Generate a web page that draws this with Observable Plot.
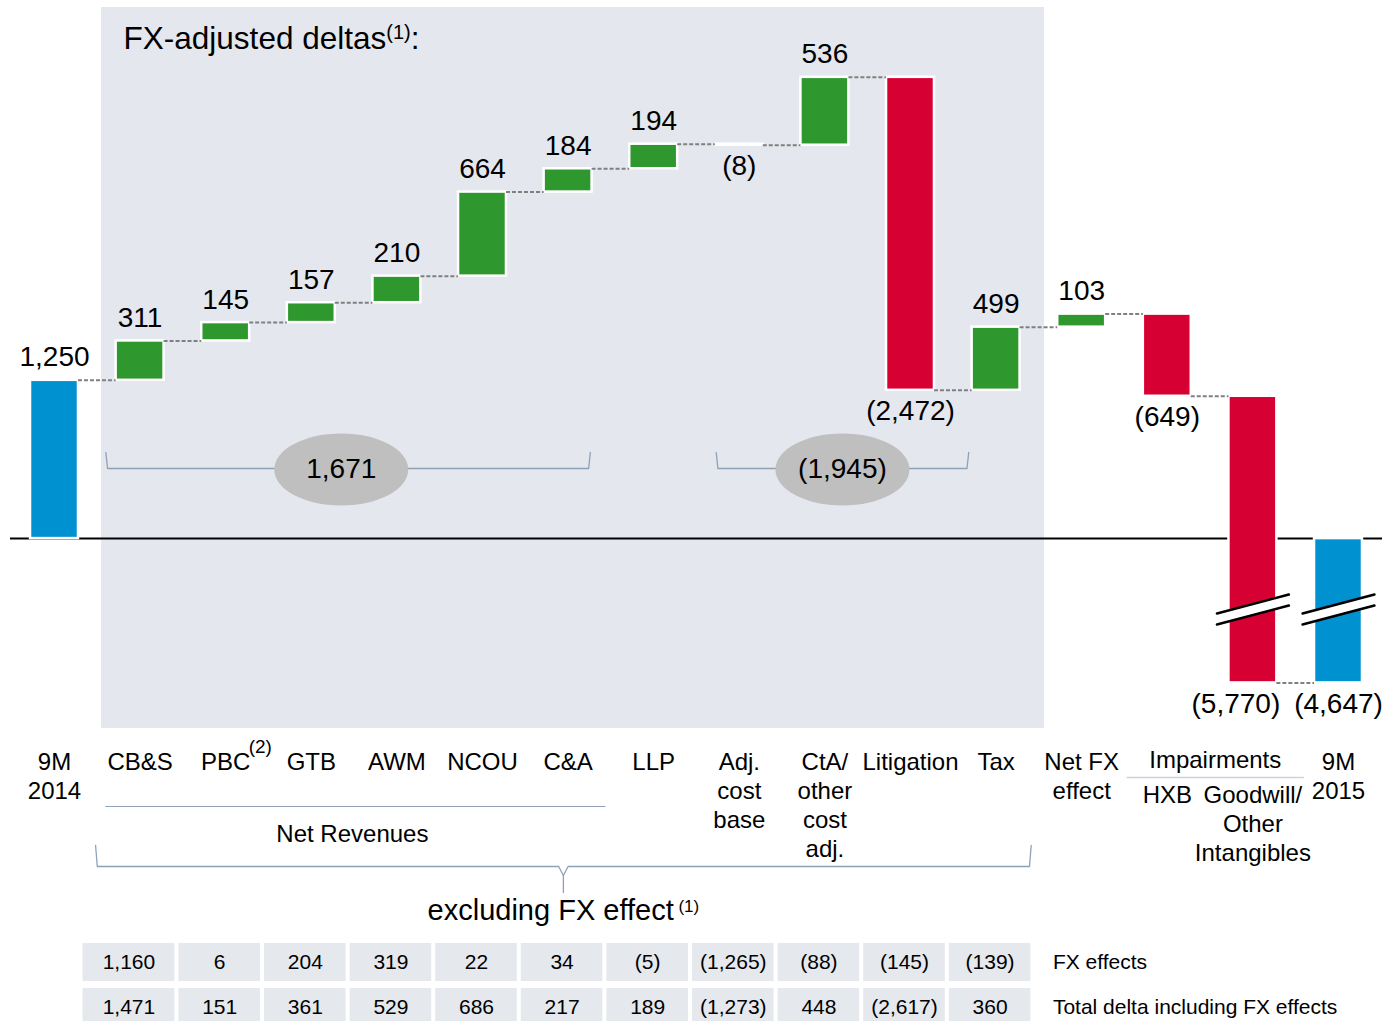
<!DOCTYPE html>
<html>
<head>
<meta charset="utf-8">
<script src="https://cdn.jsdelivr.net/npm/d3@7"></script>
<script src="https://cdn.jsdelivr.net/npm/@observablehq/plot@0.6"></script>
<style>
  html, body { margin: 0; padding: 0; background: #fff; overflow: hidden; }
  #chart svg { display: block; }
</style>
</head>
<body>
<div id="chart"></div>
<script>
// ---------------- DATA ----------------
const categories = ["9M 2014", "CB&S", "PBC", "GTB", "AWM", "NCOU", "C&A", "LLP",
  "Adj. cost base", "CtA/ other cost adj.", "Litigation", "Tax", "Net FX effect",
  "HXB", "Goodwill/ Other Intangibles", "9M 2015"];
const tickLabels = ["9M\n2014", "CB&S", "PBC", "GTB", "AWM", "NCOU", "C&A", "LLP",
  "Adj.\ncost\nbase", "CtA/\nother\ncost\nadj.", "Litigation", "Tax", "Net FX\neffect",
  "HXB", "Goodwill/\nOther\nIntangibles", "9M\n2015"];
const barKinds = ["total", "delta", "delta", "delta", "delta", "delta", "delta", "delta",
  "delta", "delta", "delta", "delta", "delta", "delta", "delta", "total"];
const values = [1250, 311, 145, 157, 210, 664, 184, 194, -8, 536, -2472, 499, 103, -649, -5770, -4647];

// group totals shown in the grey ellipses
const groupTotals = [1671, -1945];

// table under the chart
const tableCategories = ["CB&S", "PBC", "GTB", "AWM", "NCOU", "C&A", "LLP",
  "Adj. cost base", "CtA/ other cost adj.", "Litigation", "Tax"];
const fxEffects = [1160, 6, 204, 319, 22, 34, -5, -1265, -88, -145, -139];
const totalDeltas = [1471, 151, 361, 529, 686, 217, 189, -1273, 448, -2617, 360];
const tableRows = ["FX effects", "Total delta including FX effects"];

// ---------------- STYLE / LAYOUT ----------------
const colors = {total: "#0091d0", up: "#2e972e", down: "#d70032",
  shade: "#e4e7ed", ellipse: "#bfbfbf", bracket: "#8fa1b8", connector: "#808080", cell: "#e5e8ed"};
const FONT = "'Liberation Sans', Arial, Helvetica, sans-serif";
const W = 1382, H_MAIN = 938, FRAME_BOTTOM = 728;
const yDomain = [-1500, 4250];
const xDomain = [-0.514, 15.514];
const pxPerUnit = FRAME_BOTTOM / (yDomain[1] - yDomain[0]);
const pxPerStep = (W - 10) / (xDomain[1] - xDomain[0]);
const yAt = px => yDomain[1] - px / pxPerUnit;      // page pixel row -> y value
const breakFloor = -1140;                            // axis break: bars are cut here
const half = 0.28;                                   // half bar width (in category steps)
const idx = name => categories.indexOf(name);

const fmt = d3.format(",");
const fmtParen = v => v < 0 ? `(${fmt(-v)})` : fmt(v);
const disp = v => Math.max(v, breakFloor);

// ---------------- DERIVED ----------------
let run = 0;
const bars = values.map((v, i) => {
  let y1, y2;
  if (barKinds[i] === "total") { y1 = 0; y2 = v; } else { y1 = run; y2 = run + v; }
  run = y2;
  const up = y2 >= y1;
  return {i, v, y1, y2, up,
    color: barKinds[i] === "total" ? colors.total : (up ? colors.up : colors.down)};
});
const connectors = bars.slice(0, -1).map(b => ({i: b.i, y: disp(b.y2)}));
const labelShift = {14: -17};   // px, keeps the two bottom labels apart
const valueLabels = bars.map(b => ({
  i: b.i, text: fmtParen(b.v),
  x: b.i + (labelShift[b.i] || 0) / pxPerStep,
  y: b.up ? Math.max(disp(b.y1), disp(b.y2)) : Math.min(disp(b.y1), disp(b.y2)),
  up: b.up
}));

const brokenBars = bars.filter(b => Math.min(b.y1, b.y2) < breakFloor).map(b => b.i);
const breakLines = [];
const breakAreas = [];
const slopeU = 9.5 / pxPerUnit, hl = 0.42;
brokenBars.forEach(i => {
  const yu = yAt(603.5), yl = yAt(614.5);
  breakLines.push({id: i + "u", x: i - hl, y: yu - slopeU}, {id: i + "u", x: i + hl, y: yu + slopeU});
  breakLines.push({id: i + "l", x: i - hl, y: yl - slopeU}, {id: i + "l", x: i + hl, y: yl + slopeU});
  breakAreas.push({id: i, x: i - hl, y1: yl - slopeU, y2: yu - slopeU}, {id: i, x: i + hl, y1: yl + slopeU, y2: yu + slopeU});
});

// brackets in chart (group sums)
const groupSpans = [[idx("CB&S") - 0.4, idx("C&A") + 0.26], [idx("Adj. cost base") - 0.27, idx("Litigation") + 0.68]];
const groups = groupTotals.map((t, g) => ({g, text: fmtParen(t), x1: groupSpans[g][0], x2: groupSpans[g][1],
  xm: (groupSpans[g][0] + groupSpans[g][1]) / 2 - (g === 0 ? 0.08 : 0)}));
const groupBracketPts = groups.flatMap(d => [
  {g: d.g, x: d.x1, y: yAt(452)}, {g: d.g, x: d.x1 + 0.02, y: yAt(468)},
  {g: d.g, x: d.x2 - 0.02, y: yAt(468)}, {g: d.g, x: d.x2, y: yAt(452)}]);

const ellipse = (rx, ry) => ({draw(ctx) {
  const k = 0.5522847;
  ctx.moveTo(rx, 0);
  ctx.bezierCurveTo(rx, ry * k, rx * k, ry, 0, ry);
  ctx.bezierCurveTo(-rx * k, ry, -rx, ry * k, -rx, 0);
  ctx.bezierCurveTo(-rx, -ry * k, -rx * k, -ry, 0, -ry);
  ctx.bezierCurveTo(rx * k, -ry, rx, -ry * k, rx, 0);
  ctx.closePath();
}});

// annotations below the chart
const impairIdx = [idx("HXB"), idx("Goodwill/ Other Intangibles")];
const labels = tickLabels.map((t, i) => ({i, t}));
const mainLabels = labels.filter(d => !impairIdx.includes(d.i));
const subLabels = labels.filter(d => impairIdx.includes(d.i));
const impMid = (impairIdx[0] + impairIdx[1]) / 2 + 0.06;
const revFirst = idx("CB&S"), revLast = idx("C&A");
const exFirst = idx("CB&S"), exLast = idx("Tax");
const exL = exFirst - 0.52, exR = exLast + 0.41, exM = (exL + exR) / 2, vHalf = 0.055;
const bigBracket = [
  {x: exL, y: yAt(845)}, {x: exL + 0.02, y: yAt(866)}, {x: exM - vHalf, y: yAt(866)},
  {x: exM, y: yAt(875)}, {x: exM + vHalf, y: yAt(866)}, {x: exR - 0.02, y: yAt(866)}, {x: exR, y: yAt(845)}];
const stem = [{x: exM, y: yAt(875)}, {x: exM, y: yAt(892)}];

const shade = [{x1: idx("CB&S") - 0.45, x2: idx("Tax") + 0.565}];
const tableShift = -6 / pxPerStep;

const main = Plot.plot({
  width: W, height: H_MAIN,
  marginTop: 0, marginBottom: H_MAIN - FRAME_BOTTOM, marginLeft: 10, marginRight: 0,
  style: {fontFamily: FONT, background: "white", overflow: "visible", color: "#000"},
  x: {type: "linear", domain: xDomain, axis: null},
  y: {type: "linear", domain: yDomain, axis: null},
  marks: [
    Plot.rect(shade, {x1: "x1", x2: "x2", y1: () => yAt(FRAME_BOTTOM), y2: () => yAt(7), fill: colors.shade}),
    Plot.text(["FX-adjusted deltas"], {x: () => shade[0].x1, y: () => yAt(38), dx: 22, text: d => d,
      textAnchor: "start", lineAnchor: "middle", fontSize: 31.5, fill: "#000"}),
    Plot.ruleY([0], {stroke: "#000", strokeWidth: 2}),
    Plot.line(groupBracketPts, {x: "x", y: "y", z: "g", stroke: colors.bracket, strokeWidth: 1.3}),
    Plot.dot(groups, {x: "xm", y: () => yAt(469), r: 10, symbol: ellipse(67, 36), fill: colors.ellipse, stroke: "none"}),
    Plot.text(groups, {x: "xm", y: () => yAt(469), text: "text", fontSize: 28, fill: "#000", lineAnchor: "middle"}),
    Plot.rect(bars, {x1: d => d.i - half, x2: d => d.i + half, y1: d => disp(d.y1), y2: d => disp(d.y2),
      fill: "color", stroke: "white", strokeWidth: 2.5}),
    Plot.ruleY(connectors, {y: "y", x1: d => d.i + half, x2: d => d.i + 1 - half,
      stroke: colors.connector, strokeWidth: 2, strokeDasharray: "4,2"}),
    Plot.areaY(breakAreas, {x: "x", y1: "y1", y2: "y2", z: "id", fill: "white", curve: "linear"}),
    Plot.line(breakLines, {x: "x", y: "y", z: "id", stroke: "#000", strokeWidth: 2.5}),
    Plot.text(valueLabels.filter(d => d.up), {x: "x", y: "y", text: "text", dy: -23,
      fontSize: 28, fill: "#000", lineAnchor: "middle"}),
    Plot.text(valueLabels.filter(d => !d.up), {x: "x", y: "y", text: "text", dy: 21,
      fontSize: 28, fill: "#000", lineAnchor: "middle"}),
    // category labels
    Plot.text(mainLabels, {x: "i", y: () => yAt(749.5), text: "t", lineAnchor: "top", lineHeight: 1.2,
      fontSize: 24, fill: "#000"}),
    Plot.text(["(2)"], {x: () => idx("PBC"), y: () => yAt(746), dx: 23, text: d => d, textAnchor: "start",
      lineAnchor: "middle", fontSize: 19, fill: "#000"}),
    Plot.text(["Impairments"], {x: () => impMid, y: () => yAt(760), text: d => d, lineAnchor: "middle", fontSize: 24, fill: "#000"}),
    Plot.line([{x: impMid - 1.03, y: yAt(777)}, {x: impMid + 1.03, y: yAt(777)}], {x: "x", y: "y", stroke: "#c9d3e0", strokeWidth: 1.3}),
    Plot.text(subLabels, {x: "i", y: () => yAt(782.5), text: "t", lineAnchor: "top", lineHeight: 1.2, fontSize: 24, fill: "#000"}),
    Plot.line([{x: revFirst - 0.4, y: yAt(806)}, {x: revLast + 0.43, y: yAt(806)}], {x: "x", y: "y", stroke: colors.bracket, strokeWidth: 1.2}),
    Plot.text(["Net Revenues"], {x: () => (revFirst + revLast) / 2 - 0.02, y: () => yAt(834), text: d => d, lineAnchor: "middle", fontSize: 24, fill: "#000"}),
    Plot.line(bigBracket, {x: "x", y: "y", stroke: colors.bracket, strokeWidth: 1.3, curve: "linear"}),
    Plot.line(stem, {x: "x", y: "y", stroke: colors.bracket, strokeWidth: 1.3}),
    Plot.text(["excluding FX effect"], {x: () => exM, y: () => yAt(910), text: d => d, lineAnchor: "middle", fontSize: 29, fill: "#000"})
  ]
});

const cells = [];
tableCategories.forEach((c, k) => {
  cells.push({i: idx(c), row: tableRows[0], text: fmtParen(fxEffects[k])});
  cells.push({i: idx(c), row: tableRows[1], text: fmtParen(totalDeltas[k])});
});
const lastCol = idx(tableCategories[tableCategories.length - 1]);

const table = Plot.plot({
  width: W, height: 89,
  marginTop: 5, marginBottom: 0, marginLeft: 10, marginRight: 0,
  style: {fontFamily: FONT, background: "white", overflow: "visible", color: "#000"},
  x: {type: "linear", domain: xDomain, axis: null},
  y: {type: "band", domain: tableRows, paddingInner: 0.15, paddingOuter: 0, axis: null},
  marks: [
    Plot.barX(cells, {x1: d => d.i - 0.5 + tableShift - (d.i === 1 ? 0.12 : 0), x2: d => d.i + 0.5 + tableShift,
      y: "row", fill: colors.cell, insetLeft: 2, insetRight: 2}),
    Plot.text(cells, {x: d => d.i + tableShift - (d.i === 1 ? 0.06 : 0), y: "row", text: "text", fontSize: 21, fill: "#000", lineAnchor: "middle"}),
    Plot.text(tableRows, {x: () => lastCol + 0.5, y: d => d, text: d => d, dx: 14, textAnchor: "start",
      fontSize: 21, fill: "#000", lineAnchor: "middle"})
  ]
});

const root = document.getElementById("chart");
root.appendChild(main);
root.appendChild(table);

// superscripts appended to text
function addSup(svg, content, sup, supSize, raise, tail, tailSize) {
  d3.select(svg).selectAll("text").filter(function() { return this.textContent === content; })
    .each(function() {
      const t = d3.select(this);
      t.append("tspan").attr("font-size", supSize).attr("dy", -raise).text(sup);
      if (tail) t.append("tspan").attr("font-size", tailSize).attr("dy", raise).text(tail);
    });
}
addSup(main, "FX-adjusted deltas", "(1)", 20, 10, ":", 31.5);
addSup(main, "excluding FX effect", "\u00a0(1)", 17, 8, null, null);
</script>
</body>
</html>
